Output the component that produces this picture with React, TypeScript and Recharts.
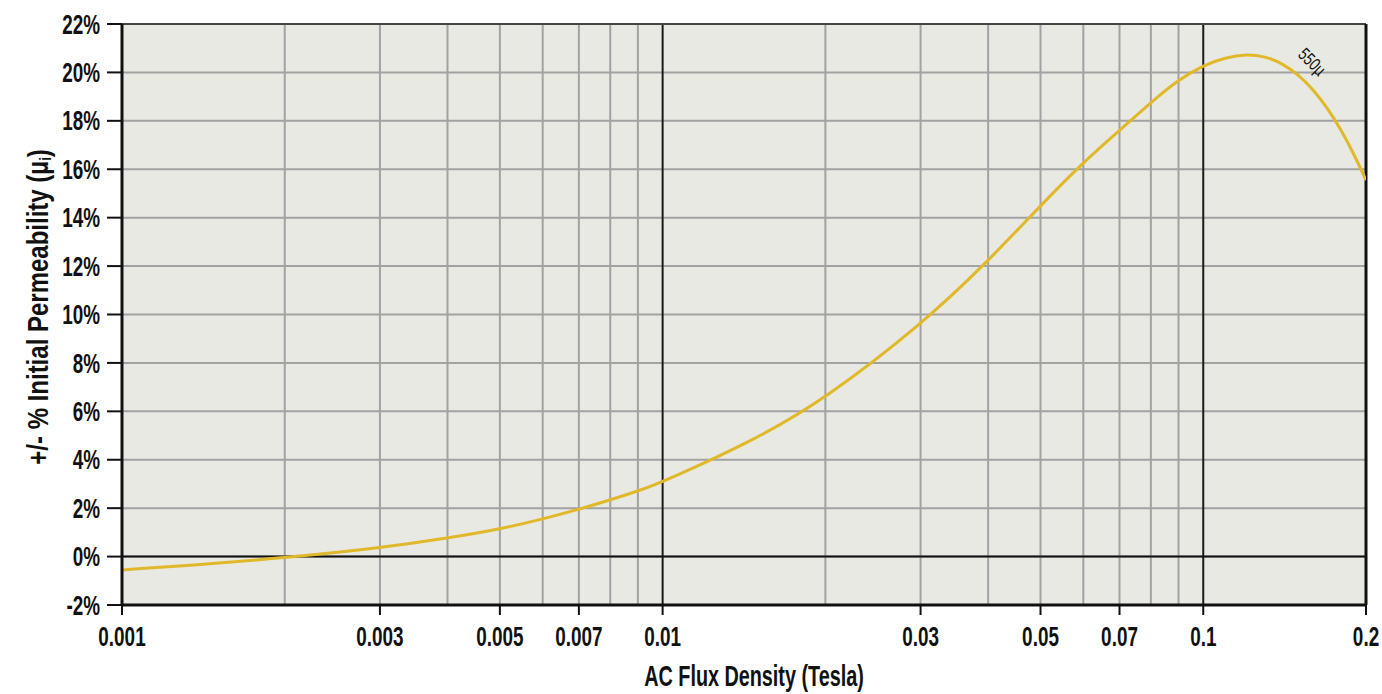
import { LineChart, Line, XAxis, YAxis, CartesianGrid, ReferenceLine, ReferenceDot } from 'recharts';

const fluxDensity = [
  0.001, 0.0015, 0.002, 0.003, 0.004, 0.005, 0.006, 0.007, 0.008, 0.009, 0.01, 0.015, 0.02, 0.03, 0.04, 0.05,
  0.06, 0.07, 0.08, 0.09, 0.1, 0.11, 0.12, 0.13, 0.14, 0.15, 0.16, 0.17, 0.18, 0.19, 0.2,
];
const permeabilityChange = [
  -0.55, -0.28, -0.05, 0.35, 0.76, 1.13, 1.55, 1.95, 2.34, 2.71, 3.08, 4.88, 6.53, 9.55, 12.2, 14.5, 16.29, 17.6,
  18.76, 19.7, 20.3, 20.62, 20.75, 20.67, 20.37, 19.9, 19.28, 18.5, 17.62, 16.62, 15.55,
];

const xTicks = [0.001, 0.003, 0.005, 0.007, 0.01, 0.03, 0.05, 0.07, 0.1, 0.2];
const yTicks = [-2, 0, 2, 4, 6, 8, 10, 12, 14, 16, 18, 20, 22];
const minorX = [
  0.002, 0.003, 0.004, 0.005, 0.006, 0.007, 0.008, 0.009, 0.02, 0.03, 0.04, 0.05, 0.06, 0.07, 0.08, 0.09,
];
const decadeX = [0.01, 0.1];
const curveLabel = { x: 0.159, y: 20.44, text: '550µ' };

const data = fluxDensity.map((x, i) => ({ x, y: permeabilityChange[i] }));

// the original face is a tall condensed sans; squeeze Liberation Sans horizontally instead
const FONT = "'Liberation Sans', Arial, sans-serif";
const GRID = '#a2a2a2';

function XTick({ x, y, payload }: any) {
  return (
    <text
      transform={`translate(${x},${y}) scale(0.7,1)`}
      textAnchor="middle"
      dy="0.71em"
      fontFamily={FONT}
      fontWeight="bold"
      fontSize={27}
      fill="#111"
    >
      {String(payload.value)}
    </text>
  );
}

function YTick({ x, y, payload }: any) {
  return (
    <text
      transform={`translate(${x},${y}) scale(0.7,1)`}
      textAnchor="end"
      dy="0.355em"
      fontFamily={FONT}
      fontWeight="bold"
      fontSize={27}
      fill="#111"
    >
      {`${payload.value}%`}
    </text>
  );
}

function YTitle({ viewBox }: any) {
  const cx = viewBox.x + 38;
  const cy = 307;
  return (
    <text
      transform={`translate(${cx},${cy}) rotate(-90) scale(0.8,1)`}
      textAnchor="middle"
      dominantBaseline="central"
      fontFamily={FONT}
      fontWeight="bold"
      fontSize={30}
      fill="#111"
    >
      +/- % Initial Permeability (µ
      <tspan fontSize={16} dy={7}>
        i
      </tspan>
      <tspan dy={-7}>)</tspan>
    </text>
  );
}

function XTitle({ viewBox }: any) {
  return (
    <text
      transform={`translate(754,${viewBox.y + 81}) scale(0.66,1)`}
      textAnchor="middle"
      fontFamily={FONT}
      fontWeight="bold"
      fontSize={30}
      fill="#111"
    >
      AC Flux Density (Tesla)
    </text>
  );
}

function CurveName({ viewBox }: any) {
  const cx = viewBox.x + (viewBox.width || 0) / 2;
  const cy = viewBox.y + (viewBox.height || 0) / 2;
  return (
    <text
      transform={`translate(${cx},${cy}) rotate(45) scale(0.75,1)`}
      textAnchor="middle"
      dominantBaseline="central"
      fontFamily={FONT}
      fontSize={18}
      fill="#111"
    >
      {curveLabel.text}
    </text>
  );
}

export default function App() {
  return (
    <div style={{ position: 'fixed', left: 0, top: 0, background: '#fff' }}>
      <LineChart width={1382} height={694} data={data} margin={{ top: 24, right: 16, left: 0, bottom: 0 }}>
        <CartesianGrid vertical={false} stroke={GRID} strokeWidth={2} fill="#e8e9e3" fillOpacity={1} />
        {minorX.map((v) => (
          <ReferenceLine key={v} x={v} stroke={GRID} strokeWidth={2} />
        ))}
        {decadeX.map((v) => (
          <ReferenceLine key={v} x={v} stroke="#1a1a1a" strokeWidth={2} />
        ))}
        <ReferenceLine y={0} stroke="#111" strokeWidth={2} />
        <ReferenceLine y={22} stroke="#444" strokeWidth={2} />
        <ReferenceLine x={0.2} stroke="#111" strokeWidth={3} />
        <XAxis
          dataKey="x"
          type="number"
          scale="log"
          domain={[0.001, 0.2]}
          ticks={xTicks}
          interval={0}
          allowDataOverflow
          height={89}
          tickSize={10}
          tickMargin={12}
          axisLine={{ stroke: '#111', strokeWidth: 3 }}
          tickLine={{ stroke: '#111', strokeWidth: 2 }}
          tick={<XTick />}
          label={<XTitle />}
        />
        <YAxis
          type="number"
          domain={[-2, 22]}
          ticks={yTicks}
          interval={0}
          width={122}
          tickSize={15}
          tickMargin={7}
          axisLine={{ stroke: '#111', strokeWidth: 3 }}
          tickLine={{ stroke: '#111', strokeWidth: 2 }}
          tick={<YTick />}
          label={<YTitle />}
        />
        <Line
          type="basis"
          dataKey="y"
          stroke="#e0b82a"
          strokeWidth={3}
          dot={false}
          isAnimationActive={false}
        />
        <ReferenceDot x={curveLabel.x} y={curveLabel.y} r={0} stroke="none" fill="none" label={<CurveName />} />
      </LineChart>
    </div>
  );
}
